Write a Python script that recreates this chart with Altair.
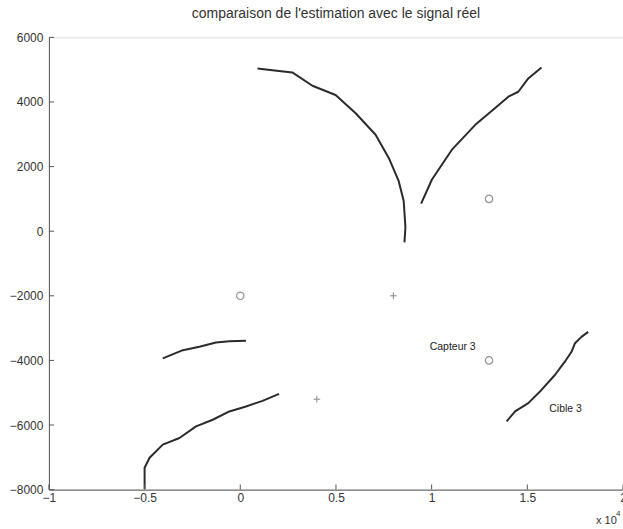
import altair as alt
import pandas as pd

# Tracks: x in units of 10^4, y in raw units
track_ids = ["arc_haut", "arc_droite", "milieu_gauche", "bas_gauche", "cible_3"]
arc_haut_x = [0.090, 0.168, 0.272, 0.377, 0.498, 0.603, 0.707, 0.776, 0.828, 0.854, 0.863, 0.858]
arc_haut_y = [5037, 4985, 4914, 4502, 4215, 3652, 2985, 2268, 1548, 933, 114, -348]
arc_droite_x = [0.945, 1.0016, 1.106, 1.228, 1.332, 1.401, 1.453, 1.505, 1.574]
arc_droite_y = [855, 1600, 2523, 3292, 3815, 4163, 4317, 4729, 5068]
milieu_x = [-0.405, -0.30, -0.214, -0.127, -0.057, 0.0297]
milieu_y = [-3938, -3683, -3579, -3446, -3406, -3394]
bas_x = [-0.5, -0.5, -0.474, -0.405, -0.318, -0.231, -0.144, -0.057, 0.0297, 0.116, 0.203]
bas_y = [-7980, -7323, -7015, -6606, -6400, -6040, -5837, -5579, -5425, -5252, -5037]
cible_x = [1.392, 1.436, 1.505, 1.574, 1.644, 1.696, 1.731, 1.748, 1.783, 1.818]
cible_y = [-5887, -5579, -5323, -4914, -4452, -4040, -3733, -3477, -3271, -3117]

capteurs_x = [0.0, 1.3, 1.3]
capteurs_y = [-2000, 1000, -4000]
croix_x = [0.8, 0.4]
croix_y = [-2000, -5200]

labels_txt = ["Capteur 3", "Cible 3"]
labels_x = [1.11, 1.70]
labels_y = [-3600, -5500]

x_ticks = [-1, -0.5, 0, 0.5, 1, 1.5, 2]
y_ticks = [-8000, -6000, -4000, -2000, 0, 2000, 4000, 6000]

rows = []
for tid, xs, ys in zip(track_ids,
                       [arc_haut_x, arc_droite_x, milieu_x, bas_x, cible_x],
                       [arc_haut_y, arc_droite_y, milieu_y, bas_y, cible_y]):
    for i, (xv, yv) in enumerate(zip(xs, ys)):
        rows.append({"track": tid, "i": i, "x": xv, "y": yv})
tracks = pd.DataFrame(rows)

FONT = "Liberation Sans"
INK = "#2b2b2b"
AX = "#555555"

xscale = alt.Scale(domain=[-1, 2], nice=False, zero=False)
yscale = alt.Scale(domain=[-8000, 6000], nice=False, zero=False)

x_axis = alt.Axis(values=x_ticks, title=None, tickSize=0, labelPadding=3,
                  domainColor=AX, labelColor="#333", labelFont=FONT, labelFontSize=12,
                  grid=False, labelExpr="datum.value == 0 ? '0' : format(datum.value, '.1~f')",
                  labelFlush=False)
y_axis = alt.Axis(values=y_ticks, title=None, tickSize=0, labelPadding=6,
                  domainColor=AX, labelColor="#333", labelFont=FONT, labelFontSize=12,
                  grid=False, format="d")

base_x = alt.X("x:Q", scale=xscale, axis=x_axis)
base_y = alt.Y("y:Q", scale=yscale, axis=y_axis)

lines = alt.Chart(tracks).mark_line(color=INK, strokeWidth=2, strokeJoin="round").encode(
    x=base_x, y=base_y, detail="track:N", order="i:Q"
)

circles = alt.Chart(pd.DataFrame({"x": capteurs_x, "y": capteurs_y})).mark_point(
    shape="circle", size=55, filled=False, color="#666", strokeWidth=1.2
).encode(x="x:Q", y="y:Q")

crosses = alt.Chart(pd.DataFrame({"x": croix_x, "y": croix_y})).mark_point(
    shape="M-1,0L1,0M0,-1L0,1", size=45, filled=False, color="#555", strokeWidth=1
).encode(x="x:Q", y="y:Q")

texts = alt.Chart(pd.DataFrame({"x": labels_x, "y": labels_y, "t": labels_txt})).mark_text(
    font=FONT, fontSize=10.5, color="#222"
).encode(x="x:Q", y="y:Q", text="t:N")

# inward tick marks
xt = alt.Chart(pd.DataFrame({"x": x_ticks, "y": [-8000] * len(x_ticks), "y2": [-7840] * len(x_ticks)})).mark_rule(
    color=AX, strokeWidth=1
).encode(x="x:Q", y="y:Q", y2="y2:Q")
yt = alt.Chart(pd.DataFrame({"y": y_ticks, "x": [-1] * len(y_ticks), "x2": [-0.973] * len(y_ticks)})).mark_rule(
    color=AX, strokeWidth=1
).encode(x="x:Q", x2="x2:Q", y="y:Q")

mult = alt.Chart(pd.DataFrame({"a": [0]})).mark_text(
    font=FONT, fontSize=11, color="#333", align="left", baseline="middle"
).encode(x=alt.value(548), y=alt.value(484), text=alt.value("x 10"))
mult_exp = alt.Chart(pd.DataFrame({"a": [0]})).mark_text(
    font=FONT, fontSize=8, color="#333", align="left", baseline="middle"
).encode(x=alt.value(568), y=alt.value(477), text=alt.value("4"))

chart = alt.layer(lines, circles, crosses, texts, xt, yt, mult, mult_exp).properties(
    width=575, height=453,
    autosize=alt.AutoSizeParams(type="none"),
    padding={"left": 49, "top": 37, "right": 0, "bottom": 39},
    title=alt.TitleParams("comparaison de l'estimation avec le signal réel", font=FONT,
                          fontSize=14, fontWeight="normal", color="#333",
                          anchor="middle", frame="group", offset=10),
).configure_view(stroke=None).configure(background="white")

chart.save("out.html", embed_options={"renderer": "svg", "actions": False})
